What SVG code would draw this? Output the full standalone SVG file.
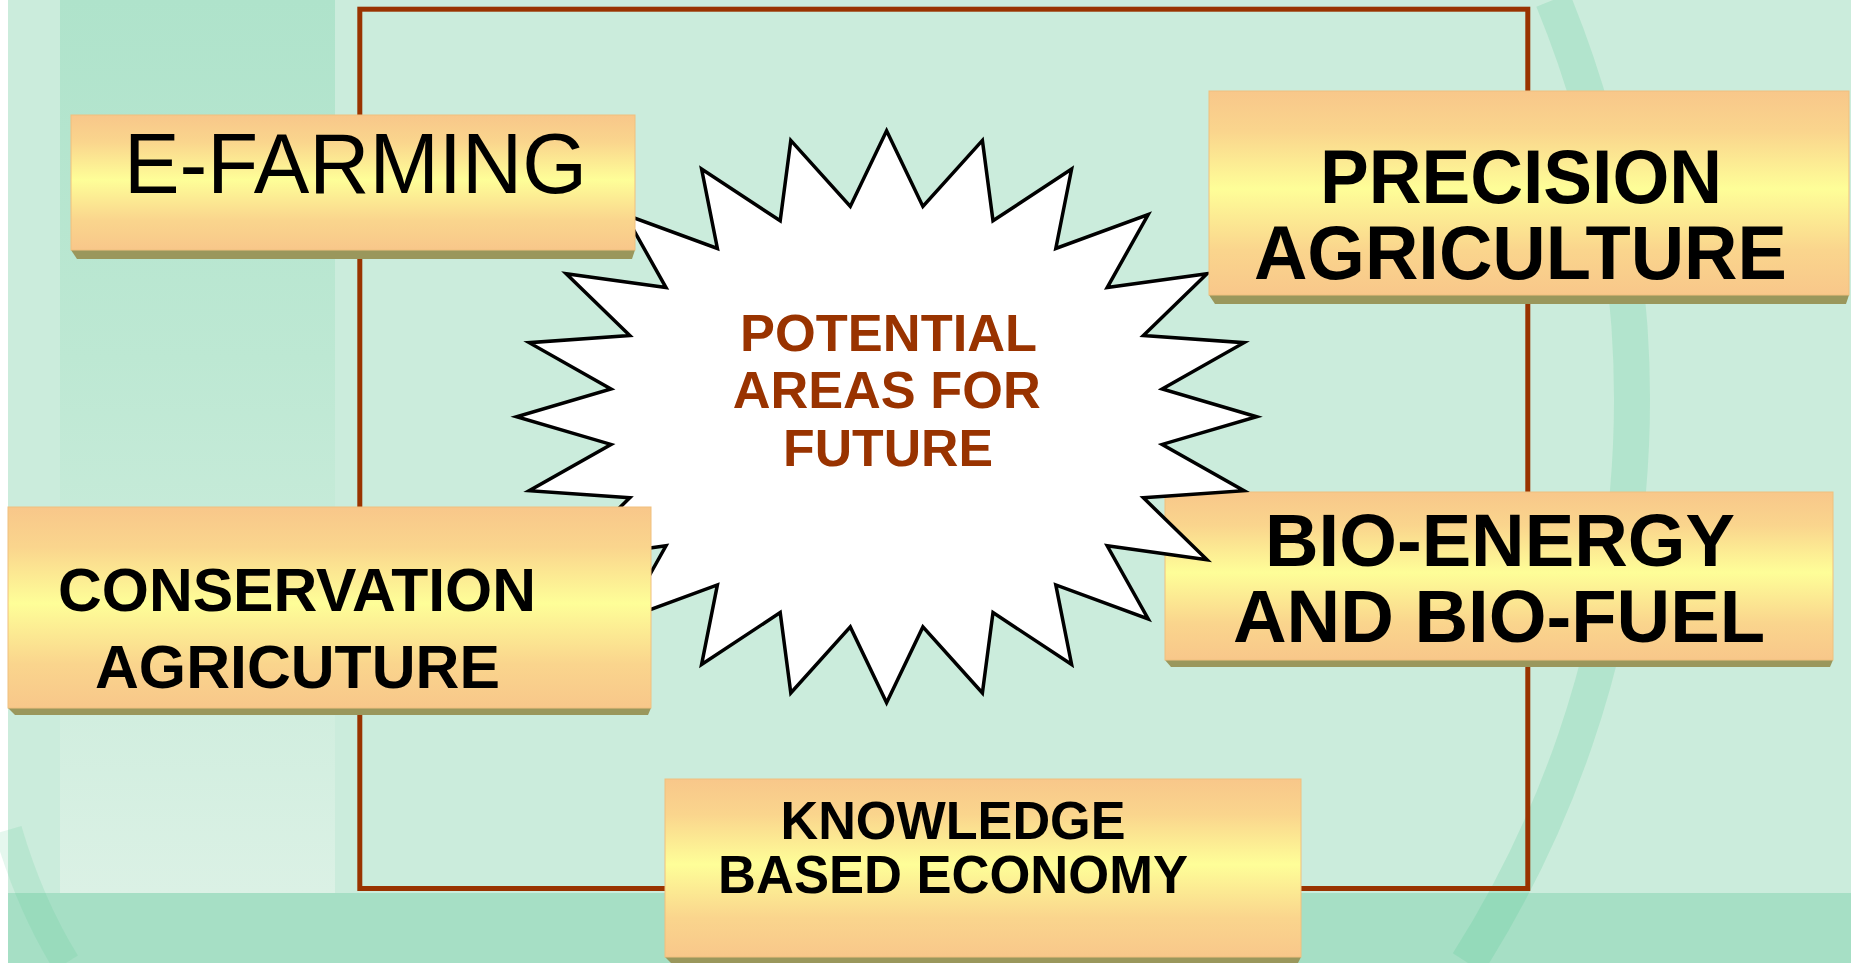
<svg xmlns="http://www.w3.org/2000/svg" width="1851" height="963" viewBox="0 0 1851 963">
<defs>
<linearGradient id="boxg" x1="0" y1="0" x2="0" y2="1">
<stop offset="0" stop-color="#f8c78a"/>
<stop offset="0.2" stop-color="#fad58d"/>
<stop offset="0.48" stop-color="#fefe98"/>
<stop offset="0.78" stop-color="#fad58d"/>
<stop offset="1" stop-color="#f8c78a"/>
</linearGradient>
<linearGradient id="colg" x1="0" y1="0" x2="0" y2="1">
<stop offset="0" stop-color="#afe3cb"/>
<stop offset="0.4" stop-color="#bde8d3"/>
<stop offset="1" stop-color="#dbf1e5"/>
</linearGradient>
<style>
.face{fill:url(#boxg);stroke:#f0c07e;stroke-width:1}
.shadow{fill:#9a975c}
.t{font-family:"Liberation Sans",Arial,sans-serif;font-weight:bold;fill:#000;text-anchor:middle}
.r{font-weight:normal}
.c{fill:#993300}
.frame{fill:none;stroke:#993300;stroke-width:5}
</style>
</defs>
<g id="background">
<rect x="0" y="0" width="1851" height="963" fill="#cbecdc"/>
<rect x="0" y="0" width="8" height="963" fill="#ffffff"/>
<rect x="60" y="0" width="275" height="893" fill="url(#colg)"/>
<rect x="8" y="893" width="1843" height="70" fill="#a6dfc5"/>
<path d="M 1553 0 A 1050 1050 0 0 1 1468 963" fill="none" stroke="#4fc890" stroke-opacity="0.2" stroke-width="36"/>
<path d="M 8 830 Q 30 905 66 963" fill="none" stroke="#4fc890" stroke-opacity="0.15" stroke-width="28"/>
</g>
<g id="connectors">
<rect class="frame" x="359.8" y="9.2" width="1168" height="879.3"/>
</g>
<g id="node-bioenergy">
<polygon class="shadow" points="1165,660 1833,660 1830,667 1171,667"/>
<rect class="face" x="1165" y="492" width="668" height="168"/>
<text class="t" font-size="75" x="1500" y="566" textLength="470" lengthAdjust="spacingAndGlyphs">BIO-ENERGY</text>
<text class="t" font-size="75" x="1499" y="642.3" textLength="532" lengthAdjust="spacingAndGlyphs">AND BIO-FUEL</text>
</g>
<g id="node-center">
<polygon fill="#ffffff" stroke="#000" stroke-width="3.5" stroke-linejoin="miter" stroke-miterlimit="20" points="1256.6,416.7 1162.2,389.0 1244.0,342.7 1143.4,335.6 1207.0,273.7 1107.2,287.6 1148.2,214.5 1055.8,248.5 1071.6,169.0 993.0,220.8 982.4,140.4 922.9,206.5 886.6,130.7 850.3,206.5 790.8,140.4 780.2,220.8 701.6,169.0 717.4,248.5 625.0,214.5 666.0,287.6 566.2,273.7 629.8,335.6 529.2,342.7 611.0,389.0 516.6,416.7 611.0,444.4 529.2,490.7 629.8,497.8 566.2,559.7 666.0,545.8 625.0,618.9 717.4,584.9 701.6,664.4 780.2,612.6 790.8,693.0 850.3,626.9 886.6,702.7 922.9,626.9 982.4,693.0 993.0,612.6 1071.6,664.4 1055.8,584.9 1148.2,618.9 1107.2,545.8 1207.0,559.7 1143.4,497.8 1244.0,490.7 1162.2,444.4"/>
<text class="t c" font-size="52.5" x="888.6" y="351" textLength="297" lengthAdjust="spacingAndGlyphs">POTENTIAL</text>
<text class="t c" font-size="52.5" x="886.7" y="408.3" textLength="308" lengthAdjust="spacingAndGlyphs">AREAS FOR</text>
<text class="t c" font-size="52.5" x="888" y="466.4" textLength="210" lengthAdjust="spacingAndGlyphs">FUTURE</text>
</g>
<g id="node-efarming">
<polygon class="shadow" points="71,250 635,250 632,259 77,259"/>
<rect class="face" x="71" y="115" width="564" height="135"/>
<text class="t r" font-size="85" x="355.5" y="192.7" textLength="463" lengthAdjust="spacingAndGlyphs">E-FARMING</text>
</g>
<g id="node-precision">
<polygon class="shadow" points="1209,295 1849,295 1846,304 1215,304"/>
<rect class="face" x="1209" y="91" width="640" height="204"/>
<text class="t" font-size="76" x="1521" y="203.3" textLength="402" lengthAdjust="spacingAndGlyphs">PRECISION</text>
<text class="t" font-size="76" x="1520.4" y="279.3" textLength="533" lengthAdjust="spacingAndGlyphs">AGRICULTURE</text>
</g>
<g id="node-conservation">
<polygon class="shadow" points="8,708 651,708 648,715 15,715"/>
<rect class="face" x="8" y="507" width="643" height="201"/>
<text class="t" font-size="62" x="297" y="610.7" textLength="478" lengthAdjust="spacingAndGlyphs">CONSERVATION</text>
<text class="t" font-size="62" x="297.5" y="688.3" textLength="405" lengthAdjust="spacingAndGlyphs">AGRICUTURE</text>
</g>
<g id="node-knowledge">
<polygon class="shadow" points="665,957 1301,957 1298,963 671,963"/>
<rect class="face" x="665" y="779" width="636" height="178"/>
<text class="t" font-size="53.5" x="953" y="839" textLength="345" lengthAdjust="spacingAndGlyphs">KNOWLEDGE</text>
<text class="t" font-size="53.5" x="953" y="892.7" textLength="470" lengthAdjust="spacingAndGlyphs">BASED ECONOMY</text>
</g>
</svg>
